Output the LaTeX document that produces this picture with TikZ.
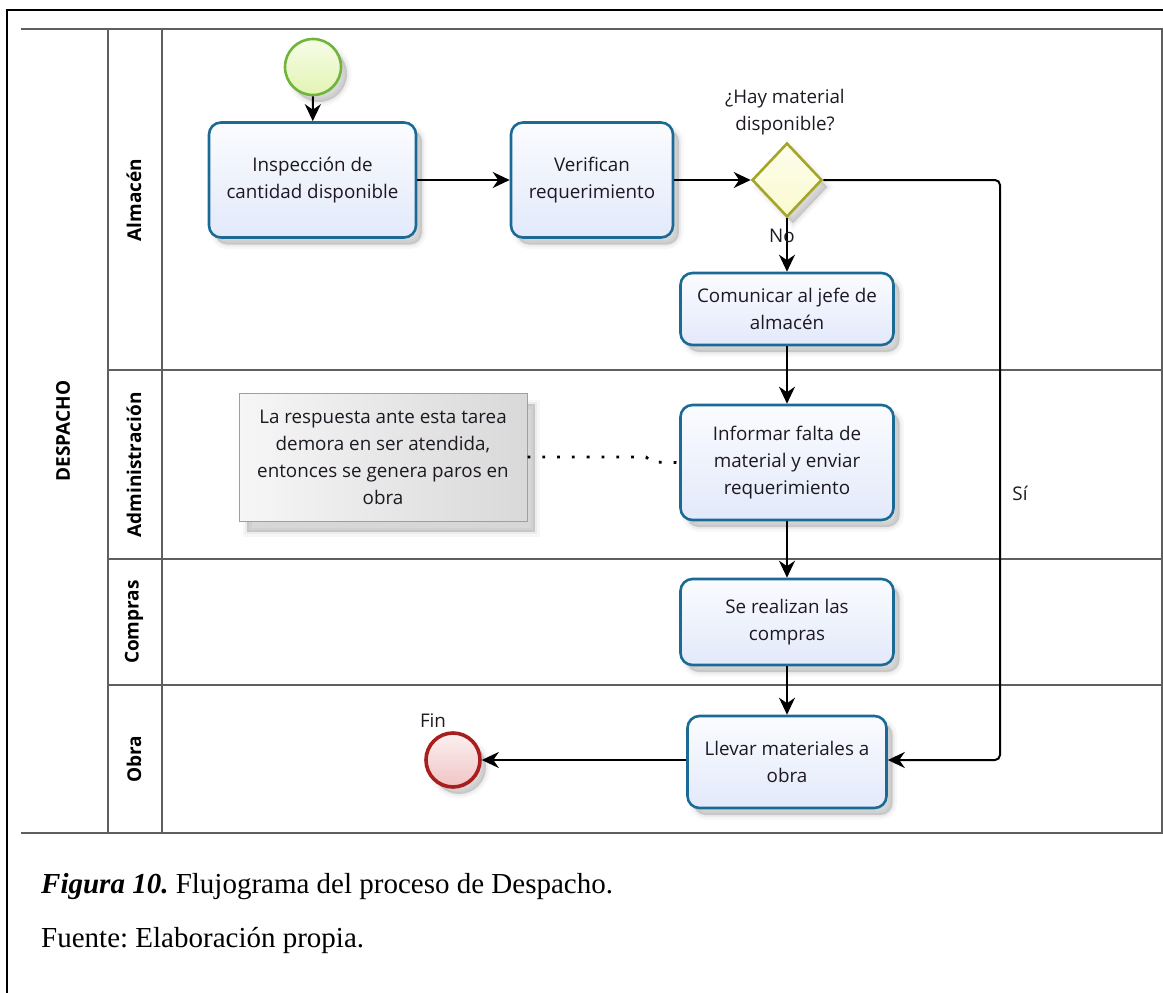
\documentclass[tikz,border=0pt]{standalone}
\usepackage{fontspec}
\setmainfont{Liberation Serif}
\newfontfamily\diagfont{Open Sans}
\usetikzlibrary{shapes.geometric,arrows.meta,shadows}
\frenchspacing

\definecolor{taskline}{RGB}{27,106,150}
\definecolor{taskfill}{RGB}{226,233,250}
\definecolor{txt}{RGB}{30,24,34}
\definecolor{startline}{RGB}{112,180,60}
\definecolor{startfill}{RGB}{226,244,178}
\definecolor{endline}{RGB}{168,30,30}
\definecolor{endfill}{RGB}{240,196,196}
\definecolor{gwline}{RGB}{165,165,40}
\definecolor{gwfill}{RGB}{250,250,208}
\definecolor{poolline}{RGB}{95,95,95}

\tikzset{
  softshadow/.style={
    general shadow={shadow xshift=6pt,shadow yshift=-7pt,fill=black,draw=black,line width=9pt,opacity=0.03},
    general shadow={shadow xshift=6pt,shadow yshift=-7pt,fill=black,draw=black,line width=4pt,opacity=0.045},
    general shadow={shadow xshift=6pt,shadow yshift=-7pt,fill=black,opacity=0.09}},
  task/.style={rectangle, rounded corners=12pt, draw=taskline, line width=2.6pt,
    top color=white!85!taskfill, bottom color=taskfill, align=center, inner sep=0pt,
    text=txt, font=\diagfont\fontsize{18.8}{27}\selectfont, softshadow},
  startev/.style={circle, draw=startline, line width=2.6pt, inner sep=0pt,
    minimum size=56pt, top color=white!70!startfill, bottom color=startfill, softshadow},
  endev/.style={circle, draw=endline, line width=3.6pt, inner sep=0pt,
    minimum size=54pt, top color=white!75!endfill, bottom color=endfill, softshadow},
  gateway/.style={diamond, draw=gwline, line width=2.6pt, inner sep=0pt,
    minimum width=70pt, minimum height=74pt, top color=white!60!gwfill, bottom color=gwfill, softshadow},
  note/.style={rectangle, draw=gray!75, line width=1pt, align=center, inner sep=0pt,
    minimum width=288pt, minimum height=128pt, left color=gray!7, right color=gray!30,
    text=txt, font=\diagfont\fontsize{18.8}{27}\selectfont,
    general shadow={shadow xshift=8pt,shadow yshift=-11pt,fill=black,draw=black,line width=9pt,opacity=0.03},
    general shadow={shadow xshift=8pt,shadow yshift=-11pt,fill=black,draw=black,line width=4pt,opacity=0.045},
    general shadow={shadow xshift=8pt,shadow yshift=-11pt,fill=black,opacity=0.09}},
  lbl/.style={text=txt, font=\diagfont\fontsize{18.8}{27}\selectfont, align=center, inner sep=0pt},
  lanelbl/.style={rotate=90, text=black, font=\diagfont\bfseries\fontsize{19}{22}\selectfont, inner sep=0pt},
  pool/.style={draw=poolline, line width=1.6pt},
  flow/.style={draw=black, line width=2pt, -{Stealth[length=17pt,width=16pt,inset=5.5pt]}},
  assoc/.style={draw=black, line width=2.8pt, dash pattern=on 2.8pt off 12pt},
  caption/.style={anchor=base west, inner sep=0pt, font=\fontsize{29}{34}\selectfont}
}

\begin{document}
\begin{tikzpicture}[x=1pt,y=-1pt]
\useasboundingbox (0,0) rectangle (1163,993);

% page frame (open at right and bottom)
\draw[black, line width=2.2pt] (7,993) -- (7,10) -- (1163,10);

% pool and lanes
\draw[pool] (21,29) -- (1162,29) -- (1162,833) -- (21,833);
\draw[pool] (108,29) -- (108,833);
\draw[pool] (162,29) -- (162,833);
\draw[pool] (108,370) -- (1162,370);
\draw[pool] (108,559) -- (1162,559);
\draw[pool] (108,685) -- (1162,685);

\node[lanelbl] (poolname) at (63,431) {DESPACHO};
\node[lanelbl] (lane1) at (134,200) {Almacén};
\node[lanelbl] (lane2) at (134,465) {Administración};
\node[lanelbl] (lane3) at (134,622) {Compras};
\node[lanelbl] (lane4) at (134,759) {Obra};

% flow objects
\node[startev] (start) at (313,67) {};
\node[task, minimum width=207pt, minimum height=115pt] (t1) at (312.5,180) {Inspección de\\cantidad disponible};
\node[task, minimum width=162pt, minimum height=115pt] (t2) at (592,180) {Verifican\\requerimiento};
\node[gateway] (gw) at (787,180) {};
\node[lbl] (gwq) at (785,112) {¿Hay material\\disponible?};
\node[task, minimum width=213pt, minimum height=72pt] (t3) at (787,309) {Comunicar al jefe de\\almacén};
\node[task, minimum width=213pt, minimum height=115pt] (t4) at (787,462.5) {Informar falta de\\material y enviar\\requerimiento};
\node[task, minimum width=213pt, minimum height=86pt] (t5) at (787,622) {Se realizan las\\compras};
\node[task, minimum width=199pt, minimum height=92pt] (t6) at (787,762) {Llevar materiales a\\obra};
\node[endev] (fin) at (453,760) {};
\node[lbl] (finlbl) at (433,721) {Fin};
\node[note] (ann) at (383,457) {La respuesta ante esta tarea\\demora en ser atendida,\\entonces se genera paros en\\obra};

% sequence flows
\draw[flow] (start) -- (t1);
\draw[flow] (t1) -- (t2);
\draw[flow] (t2) -- (gw);
\draw[flow] (gw) -- (t3);
\node[lbl] (nolbl) at (782,236) {No};
\draw[flow] (t3) -- (t4);
\draw[flow] (t4) -- (t5);
\draw[flow] (t5) -- (t6);
\draw[flow] (t6.west |- fin) -- (fin);
\draw[flow, rounded corners=5pt] (gw.east) -- (1000,180) -- (1000,760) -- (t6.east |- 0,760);
\node[lbl] (silbl) at (1020,493) {Sí};

% association to the annotation
\draw[assoc] (ann.east) -- (646,457) -- (652,462) -- (t4.west);

% caption
\node[caption] (cap1) at (41,893) {\textbf{\textit{Figura 10.}} Flujograma del proceso de Despacho.};
\node[caption] (cap2) at (41,947) {Fuente: Elaboración propia.};
\end{tikzpicture}
\end{document}
